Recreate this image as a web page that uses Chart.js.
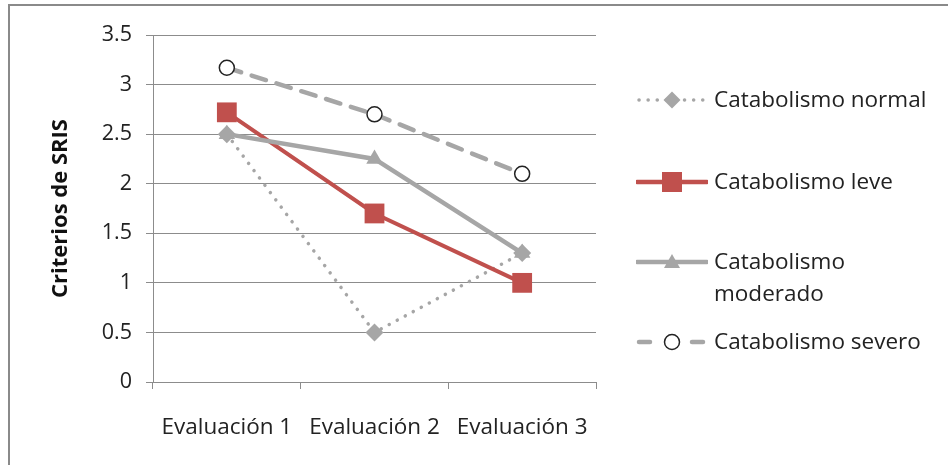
<!DOCTYPE html>
<html lang="es">
<head>
<meta charset="UTF-8">
<title>Criterios de SRIS</title>
<script src="https://cdn.jsdelivr.net/npm/chart.js"></script>
<style>
  html, body { margin: 0; padding: 0; background: #fff; }
  .frame { position: relative; width: 948px; height: 465px; overflow: hidden; }
  .frame .edge { position: absolute; left: 8px; top: 4px; right: -10px; bottom: -10px;
    border-left: 2px solid #8a8a8a; border-top: 2px solid #8a8a8a; }
  #legend { position: absolute; left: 636px; top: 0; font-family: 'Open Sans', sans-serif;
    font-size: 22.5px; color: #222; }
  .item { position: absolute; left: 0; display: flex; align-items: flex-start; white-space: nowrap; }
  .item svg { flex: none; }
  .item span { margin-left: 6px; line-height: 32px; margin-top: -1px; }
</style>
</head>
<body>
<div class="frame">
  <canvas id="myChart" width="948" height="465"></canvas>
  <div class="edge"></div>
  <div id="legend"></div>
</div>

<script>
  // datos
  const categorias = ['Evaluación 1', 'Evaluación 2', 'Evaluación 3'];
  const normal = [2.5, 0.5, 1.3];
  const leve = [2.72, 1.7, 1.0];
  const moderado = [2.5, 2.25, 1.3];
  const severo = [3.17, 2.7, 2.1];
  const nombres = ['Catabolismo normal', 'Catabolismo leve', 'Catabolismo moderado', 'Catabolismo severo'];

  const gris = '#a6a6a6';
  const rojo = '#c0504d';

  const ctx = document.getElementById('myChart').getContext('2d');
  const myChart = new Chart(ctx, {
    type: 'line',
    data: {
      labels: categorias,
      datasets: [
        {
          label: nombres[0], data: normal,
          borderColor: gris, borderWidth: 3.5, borderDash: [0.1, 9], borderCapStyle: 'round',
          pointStyle: 'rectRot', pointRadius: 9, pointBackgroundColor: gris, pointBorderColor: gris,
          pointBorderWidth: 0, order: 4
        },
        {
          label: nombres[1], data: leve,
          borderColor: rojo, borderWidth: 4,
          pointStyle: 'rect', pointRadius: 14, pointBackgroundColor: rojo, pointBorderColor: rojo,
          pointBorderWidth: 0, order: 3
        },
        {
          label: nombres[2], data: moderado,
          borderColor: gris, borderWidth: 4.5,
          pointStyle: 'triangle', pointRadius: 9.5, pointBackgroundColor: gris, pointBorderColor: gris,
          pointBorderWidth: 0, order: 2
        },
        {
          label: nombres[3], data: severo,
          borderColor: gris, borderWidth: 4.5, borderDash: [15, 11], borderCapStyle: 'round',
          pointStyle: 'circle', pointRadius: 7.5, pointBackgroundColor: '#fff', pointBorderColor: '#222',
          pointBorderWidth: 1.5, order: 1
        }
      ]
    },
    options: {
      responsive: false,
      animation: false,
      events: [],
      layout: { padding: { left: 48, right: 352, top: 35, bottom: 0 } },
      plugins: { legend: { display: false }, tooltip: { enabled: false } },
      scales: {
        x: {
          offset: true,
          afterFit: s => { s.height = 83; },
          grid: { offset: true, drawOnChartArea: false, color: '#8c8c8c', tickLength: 7 },
          border: { color: '#8c8c8c' },
          ticks: { color: '#222', padding: 25, font: { family: 'Open Sans', size: 22.5 } }
        },
        y: {
          min: 0, max: 3.5,
          afterFit: s => { s.width = 105; },
          grid: { color: '#8c8c8c', tickLength: 7 },
          border: { color: '#8c8c8c' },
          ticks: { stepSize: 0.5, color: '#222', padding: 14, font: { family: 'Open Sans', size: 21.5 },
                   callback: v => String(v) },
          title: { display: true, text: 'Criterios de SRIS', color: '#111', padding: 0,
                   font: { family: 'Open Sans', size: 22, weight: 'bold' } }
        }
      }
    }
  });

  // leyenda a la derecha
  const estilos = myChart.data.datasets;
  const posY = [84, 166, 246, 326];
  const legend = document.getElementById('legend');
  estilos.forEach((ds, i) => {
    const dash = ds.borderDash ? `stroke-dasharray="${ds.borderDash.join(' ')}" stroke-linecap="round"` : '';
    let marker = '';
    if (ds.pointStyle === 'rectRot') marker = `<polygon points="36,7.5 44.5,16 36,24.5 27.5,16" fill="${gris}"/>`;
    if (ds.pointStyle === 'rect') marker = `<rect x="26" y="6" width="20" height="20" fill="${rojo}"/>`;
    if (ds.pointStyle === 'triangle') marker = `<polygon points="36,8 44,22 28,22" fill="${gris}"/>`;
    if (ds.pointStyle === 'circle') marker = `<circle cx="36" cy="16" r="7.5" fill="#fff" stroke="#222" stroke-width="1.5"/>`;
    const linea = ds.borderDash
      ? (ds.borderDash[0] < 1
          ? `<line x1="3" y1="16" x2="70" y2="16" stroke="${gris}" stroke-width="3.5" ${dash}/>`
          : `<line x1="3" y1="16" x2="14" y2="16" stroke="${gris}" stroke-width="4.5" stroke-linecap="round"/>
             <line x1="56" y1="16" x2="67" y2="16" stroke="${gris}" stroke-width="4.5" stroke-linecap="round"/>`)
      : `<line x1="1" y1="16" x2="71" y2="16" stroke="${ds.borderColor}" stroke-width="4.5" stroke-linecap="round"/>`;
    const texto = ds.label === 'Catabolismo moderado' ? 'Catabolismo<br>moderado' : ds.label;
    const div = document.createElement('div');
    div.className = 'item';
    div.style.top = posY[i] + 'px';
    div.innerHTML = `<svg width="72" height="32">${linea}${marker}</svg><span>${texto}</span>`;
    legend.appendChild(div);
  });
</script>
</body>
</html>
